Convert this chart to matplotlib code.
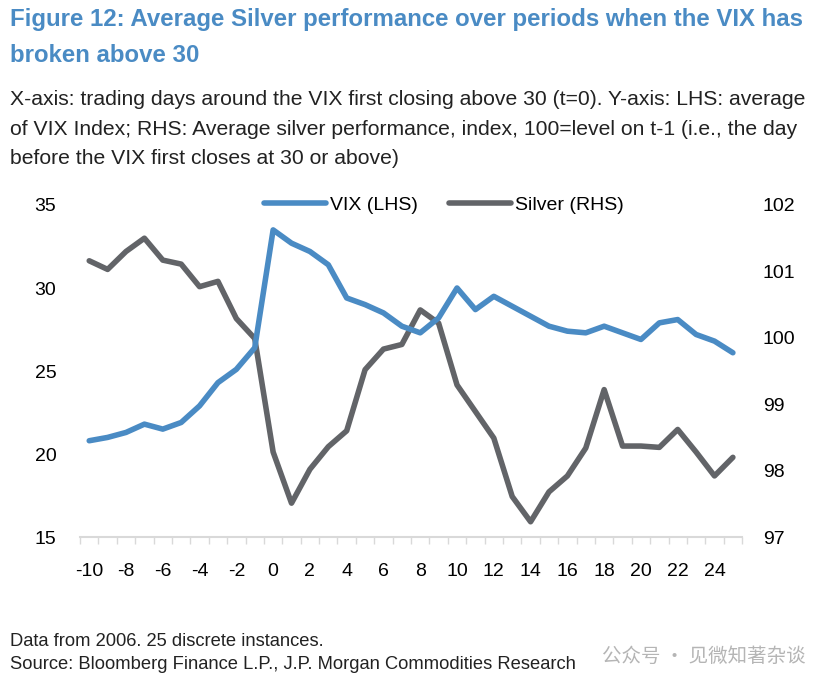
import matplotlib.pyplot as plt
import numpy as np
from matplotlib.ticker import MultipleLocator

plt.rcParams['font.family'] = ['Liberation Sans', 'DejaVu Sans']
plt.rcParams['axes.unicode_minus'] = False

days = list(range(-10, 26))
vix = [20.8, 21.0, 21.3, 21.8, 21.5, 21.9, 22.9, 24.3, 25.1, 26.4,
       33.5, 32.7, 32.2, 31.4, 29.4, 29.0, 28.5, 27.7, 27.3, 28.2,
       30.0, 28.7, 29.5, 28.9, 28.3, 27.7, 27.4, 27.3, 27.7, 27.3,
       26.9, 27.9, 28.1, 27.2, 26.8, 26.1]
silver = [101.16, 101.03, 101.30, 101.50, 101.17, 101.11, 100.77, 100.85, 100.29, 99.99,
          98.28, 97.51, 98.02, 98.36, 98.60, 99.52, 99.83, 99.90, 100.42, 100.22,
          99.29, 98.89, 98.49, 97.61, 97.23, 97.68, 97.92, 98.34, 99.22, 98.37,
          98.37, 98.35, 98.62, 98.28, 97.92, 98.20]

blue = '#4a8bc4'
grey = '#626468'

fig = plt.figure(figsize=(8.31, 6.9), dpi=100)
ax = fig.add_axes([0.0963, 0.2217, 0.7967, 0.4812])
ax2 = ax.twinx()

l1, = ax.plot(days, vix, color=blue, lw=4, solid_capstyle='round', label='VIX (LHS)')
l2, = ax2.plot(days, silver, color=grey, lw=4, solid_capstyle='round', label='Silver (RHS)')

ax.set_xlim(-10.5, 25.5)
ax.set_ylim(15, 35)
ax2.set_ylim(97, 102)
ax.set_yticks([15, 20, 25, 30, 35])
ax2.set_yticks([97, 98, 99, 100, 101, 102])
ax.set_xticks(range(-10, 25, 2))
ax.xaxis.set_minor_locator(MultipleLocator(1, offset=0.5))

for a in (ax, ax2):
    for s in a.spines.values():
        s.set_visible(False)
ax.spines['bottom'].set_visible(True)
ax.spines['bottom'].set_color('#d9d9d9')
ax.spines['bottom'].set_linewidth(1.5)

ax.tick_params(axis='x', which='major', length=0, pad=19, labelsize=14)
ax.tick_params(axis='x', which='minor', length=5, width=1, color='#d9d9d9')
ax.tick_params(axis='y', length=0, pad=17, labelsize=14)
ax2.tick_params(axis='y', length=0, pad=15, labelsize=14)
ax.set_zorder(ax2.get_zorder() + 1)
ax.patch.set_visible(False)

ax.legend(handles=[l1, l2], loc='center', bbox_to_anchor=(0.55, 1.0), ncol=2,
          frameon=False, fontsize=14, handlelength=3.2, columnspacing=1.6,
          handletextpad=0.2)

fig.text(0.012, 0.988, 'Figure 12: Average Silver performance over periods when the VIX has\nbroken above 30',
         color='#4a8bc4', fontsize=17.3, fontweight='bold', va='top', ha='left', linespacing=1.73)
fig.text(0.012, 0.869, 'X-axis: trading days around the VIX first closing above 30 (t=0). Y-axis: LHS: average\n'
         'of VIX Index; RHS: Average silver performance, index, 100=level on t-1 (i.e., the day\n'
         'before the VIX first closes at 30 or above)',
         color='#222222', fontsize=15.2, va='top', ha='left', linespacing=1.7)
fig.text(0.012, 0.024, 'Data from 2006. 25 discrete instances.\n'
         'Source: Bloomberg Finance L.P., J.P. Morgan Commodities Research',
         color='#222222', fontsize=13.2, va='bottom', ha='left', linespacing=1.47)
fig.text(0.97, 0.048, '公众号 · 见微知著杂谈', color='#b5b5b5', fontsize=14, ha='right', va='center',
         family=['Noto Sans CJK SC', 'DejaVu Sans'])

fig.savefig('out.png', dpi=100)
